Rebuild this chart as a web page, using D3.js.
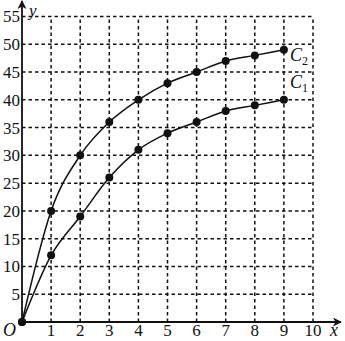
<!DOCTYPE html>
<html>
<head>
<meta charset="utf-8">
<script src="https://cdn.jsdelivr.net/npm/d3@7"></script>
<style>
  body { margin: 0; background: #fff; }
  text { font-family: 'Liberation Serif', 'DejaVu Serif', serif; }
</style>
</head>
<body>
<div id="chart"></div>
<script>
// data
const xs = [0, 1, 2, 3, 4, 5, 6, 7, 8, 9];
const c2Values = [0, 20, 30, 36, 40, 43, 45, 47, 48, 49];
const c1Values = [0, 12, 19, 26, 31, 34, 36, 38, 39, 40];
const xTicks = [1, 2, 3, 4, 5, 6, 7, 8, 9, 10];
const yTicks = [5, 10, 15, 20, 25, 30, 35, 40, 45, 50, 55];

const width = 345, height = 341;

const x = d3.scaleLinear().domain([0, 10]).range([22, 313]);
const y = d3.scaleLinear().domain([0, 55]).range([322, 16.5]);

const svg = d3.select('#chart').append('svg')
  .attr('width', width)
  .attr('height', height);

// dashed grid
const grid = svg.append('g')
  .attr('stroke', '#111')
  .attr('stroke-width', 1.5)
  .attr('stroke-dasharray', '3.5,3');

grid.selectAll('line.v')
  .data(xTicks)
  .enter()
  .append('line')
    .attr('x1', d => x(d)).attr('x2', d => x(d))
    .attr('y1', y(0)).attr('y2', y(55));

grid.selectAll('line.h')
  .data(yTicks)
  .enter()
  .append('line')
    .attr('x1', x(0)).attr('x2', x(10))
    .attr('y1', d => y(d)).attr('y2', d => y(d));

// axes with arrows
svg.append('defs').append('marker')
  .attr('id', 'arrow')
  .attr('viewBox', '0 0 10 10')
  .attr('refX', 9).attr('refY', 5)
  .attr('markerWidth', 9).attr('markerHeight', 9)
  .attr('markerUnits', 'userSpaceOnUse')
  .attr('orient', 'auto')
  .append('path')
    .attr('d', 'M0,0 L10,5 L0,10 L3,5 Z')
    .attr('fill', '#111');

svg.append('line')
  .attr('x1', x(0)).attr('x2', 341)
  .attr('y1', y(0)).attr('y2', y(0))
  .attr('stroke', '#111').attr('stroke-width', 1.8)
  .attr('marker-end', 'url(#arrow)');

svg.append('line')
  .attr('x1', x(0)).attr('x2', x(0))
  .attr('y1', y(0)).attr('y2', 1)
  .attr('stroke', '#111').attr('stroke-width', 1.8)
  .attr('marker-end', 'url(#arrow)');

// tick labels
svg.append('g')
  .selectAll('text')
  .data(xTicks)
  .enter()
  .append('text')
    .attr('x', d => x(d))
    .attr('y', y(0) + 14)
    .attr('text-anchor', 'middle')
    .attr('font-size', '17px')
    .attr('fill', '#111')
    .text(d => d);

svg.append('g')
  .selectAll('text')
  .data(yTicks)
  .enter()
  .append('text')
    .attr('x', x(0) - 2)
    .attr('y', d => y(d))
    .attr('dy', '0.35em')
    .attr('text-anchor', 'end')
    .attr('font-size', '17px')
    .attr('fill', '#111')
    .text(d => d);

svg.append('text')
  .attr('x', 3).attr('y', y(0) + 14)
  .attr('font-size', '18px').attr('font-style', 'italic').attr('fill', '#111')
  .text('O');

svg.append('text')
  .attr('x', 330).attr('y', y(0) + 14)
  .attr('font-size', '18px').attr('font-style', 'italic').attr('fill', '#111')
  .text('x');

svg.append('text')
  .attr('x', 29).attr('y', 16)
  .attr('font-size', '17px').attr('font-style', 'italic').attr('fill', '#111')
  .text('y');

// curves
const line = d3.line()
  .x(d => x(d[0]))
  .y(d => y(d[1]))
  .curve(d3.curveMonotoneX);

[c2Values, c1Values].forEach(vals => {
  const pts = xs.map((xv, i) => [xv, vals[i]]);
  svg.append('path')
    .attr('d', line(pts))
    .attr('fill', 'none')
    .attr('stroke', '#111')
    .attr('stroke-width', 1.5);
  svg.append('g')
    .selectAll('circle')
    .data(pts)
    .enter()
    .append('circle')
      .attr('cx', d => x(d[0]))
      .attr('cy', d => y(d[1]))
      .attr('r', 4)
      .attr('fill', '#111');
});

// curve labels
const labels = [
  { name: 'C', sub: '2', v: c2Values[c2Values.length - 1], dy: 11 },
  { name: 'C', sub: '1', v: c1Values[c1Values.length - 1], dy: -12 }
];
labels.forEach(l => {
  const t = svg.append('text')
    .attr('x', x(9) + 6)
    .attr('y', y(l.v) + l.dy)
    .attr('font-size', '18px')
    .attr('font-style', 'italic')
    .attr('fill', '#111');
  t.append('tspan').text(l.name);
  t.append('tspan')
    .attr('dy', 4)
    .attr('font-size', '12px')
    .attr('font-style', 'normal')
    .text(l.sub);
});
</script>
</body>
</html>
